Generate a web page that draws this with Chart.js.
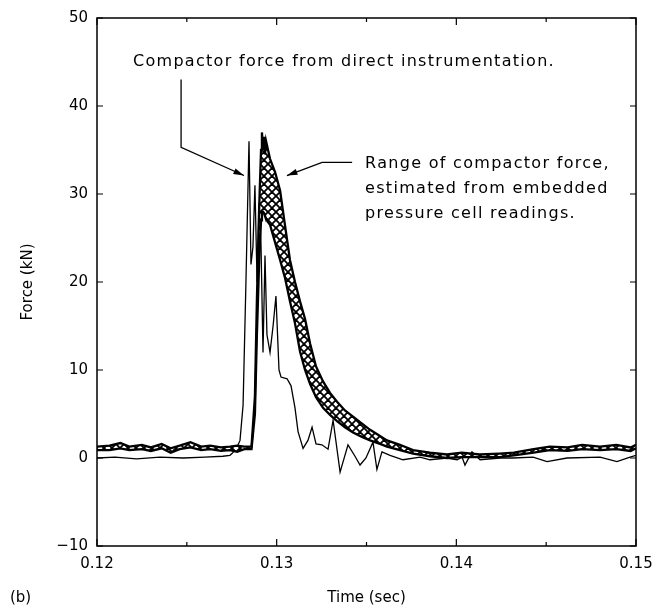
<!DOCTYPE html>
<html>
<head>
<meta charset="utf-8">
<script src="https://cdn.jsdelivr.net/npm/chart.js@4.4.1/dist/chart.umd.min.js"></script>
<style>
  html, body { margin: 0; padding: 0; background: #fff; }
  #wrap { width: 669px; height: 611px; }
</style>
</head>
<body>
<div id="wrap"><canvas id="myChart" width="669" height="611"></canvas></div>
<script>
// band of compactor force estimated from pressure cells (upper / lower edge)
var bandTime = [0.12000, 0.12070, 0.12130, 0.12180, 0.12250, 0.12300, 0.12360, 0.12410, 0.12460, 0.12520,
  0.12580, 0.12630, 0.12690, 0.12740, 0.12780, 0.12820, 0.12860, 0.12879, 0.12890, 0.12902,
  0.12913, 0.12918, 0.12924, 0.12930, 0.12935, 0.12941, 0.12952, 0.12963, 0.12991, 0.13019,
  0.13046, 0.13074, 0.13102, 0.13130, 0.13158, 0.13186, 0.13219, 0.13258, 0.13297, 0.13336,
  0.13380, 0.13425, 0.13475, 0.13520, 0.13575, 0.13614, 0.13686, 0.13759, 0.13853, 0.13948,
  0.14030, 0.14130, 0.14240, 0.14320, 0.14430, 0.14520, 0.14620, 0.14700, 0.14800, 0.14890,
  0.14970, 0.15000];
var bandUpper = [1.3, 1.4, 1.7, 1.3, 1.5, 1.2, 1.6, 1.1, 1.4, 1.8,
  1.3, 1.4, 1.2, 1.3, 1.4, 1.3, 1.3, 7, 18, 28,
  35, 37, 35, 36.5, 34.5, 36, 35, 34, 32.5, 30.4,
  26.5, 22.5, 20.0, 17.8, 15.8, 13.0, 10.4, 8.7, 7.4, 6.4,
  5.4, 4.7, 3.9, 3.2, 2.5, 2.0, 1.5, 0.9, 0.6, 0.4,
  0.6, 0.4, 0.5, 0.6, 1.0, 1.3, 1.2, 1.5, 1.3, 1.5,
  1.2, 1.5];
var bandLower = [0.9, 0.9, 1.1, 0.9, 1.0, 0.8, 1.1, 0.6, 1.0, 1.2,
  0.9, 1.0, 0.8, 0.9, 0.7, 1.0, 1.0, 5, 14, 22,
  27, 28, 28, 27.8, 27.5, 27.2, 26.8, 26.5, 24.5, 22.5,
  20.5, 17.8, 15.3, 12.1, 10.0, 8.4, 6.9, 5.7, 4.9, 4.2,
  3.5, 2.9, 2.4, 2.0, 1.6, 1.3, 0.9, 0.5, 0.2, 0.0,
  0.1, 0.1, 0.1, 0.3, 0.6, 0.9, 0.8, 1.0, 0.9, 1.0,
  0.8, 1.1];

// compactor force from direct instrumentation
var directTime = [0.12000, 0.12100, 0.12220, 0.12350, 0.12480, 0.12600, 0.12700, 0.12740, 0.12751, 0.12774,
  0.12796, 0.12813, 0.12829, 0.12846, 0.12857, 0.12868, 0.12879, 0.12891, 0.12902, 0.12913,
  0.12924, 0.12935, 0.12946, 0.12963, 0.12980, 0.12996, 0.13013, 0.13024, 0.13058, 0.13080,
  0.13102, 0.13119, 0.13147, 0.13174, 0.13197, 0.13219, 0.13252, 0.13286, 0.13314, 0.13353,
  0.13397, 0.13436, 0.13464, 0.13497, 0.13536, 0.13558, 0.13586, 0.13631, 0.13703, 0.13798,
  0.13853, 0.13948, 0.14004, 0.14032, 0.14048, 0.14087, 0.14132, 0.14243, 0.14315, 0.14427,
  0.14505, 0.14616, 0.14800, 0.14894, 0.14967, 0.15000];
var directForce = [0.0, 0.1, -0.1, 0.1, 0.0, 0.1, 0.2, 0.3, 0.5, 1.0,
  2.0, 6.0, 20, 36, 22, 24, 31, 20, 29, 24,
  12, 23, 14, 12, 15, 18.4, 10, 9.2, 9.0, 8.2,
  5.7, 3.0, 1.1, 2.0, 3.5, 1.6, 1.5, 1.0, 4.3, -1.6,
  1.5, 0.2, -0.8, 0.0, 1.8, -1.3, 0.7, 0.3, -0.2, 0.1,
  -0.2, 0.0, -0.2, 0.1, -0.8, 0.7, -0.2, 0.0, 0.0, 0.1,
  -0.4, 0.0, 0.1, -0.4, 0.1, 0.3];

var xTicks = [0.12, 0.13, 0.14, 0.15];
var yTicks = [-10, 0, 10, 20, 30, 40, 50];

function toPoints(xs, ys) {
    return xs.map(function (x, i) { return { x: x, y: ys[i] }; });
}

// cross hatch for the range band
function makeHatch() {
    var n = 8;
    var c = document.createElement('canvas');
    c.width = n; c.height = n;
    var g = c.getContext('2d');
    g.fillStyle = '#fff';
    g.fillRect(0, 0, n, n);
    g.strokeStyle = '#000';
    g.lineWidth = 1.8;
    [-n, 0, n].forEach(function (o) {
        g.beginPath(); g.moveTo(o, 0); g.lineTo(o + n, n); g.stroke();
        g.beginPath(); g.moveTo(o, n); g.lineTo(o + n, 0); g.stroke();
    });
    return g.createPattern(c, 'repeat');
}

var FONT = 'DejaVu Sans';

// box, inward ticks on all sides, annotations
var framePlugin = {
    id: 'frame',
    afterDatasetsDraw: function (chart) {
        var ctx = chart.ctx, a = chart.chartArea;
        var xs = chart.scales.x, ys = chart.scales.y;
        ctx.save();
        ctx.strokeStyle = '#000';
        ctx.lineWidth = 1.5;
        ctx.strokeRect(a.left, a.top, a.right - a.left, a.bottom - a.top);
        ctx.lineWidth = 1.2;
        for (var t = 0.12; t <= 0.1501; t += 0.005) {
            var px = xs.getPixelForValue(t);
            var major = Math.abs(t * 100 - Math.round(t * 100)) < 0.01;
            var len = major ? 7 : 4;
            ctx.beginPath();
            ctx.moveTo(px, a.bottom); ctx.lineTo(px, a.bottom - len);
            ctx.moveTo(px, a.top); ctx.lineTo(px, a.top + len);
            ctx.stroke();
        }
        yTicks.forEach(function (v) {
            var py = ys.getPixelForValue(v);
            ctx.beginPath();
            ctx.moveTo(a.left, py); ctx.lineTo(a.left + 6, py);
            ctx.moveTo(a.right, py); ctx.lineTo(a.right - 6, py);
            ctx.stroke();
        });

        // annotations
        function P(t, f) { return [xs.getPixelForValue(t), ys.getPixelForValue(f)]; }
        function arrowHead(from, to) {
            var ang = Math.atan2(to[1] - from[1], to[0] - from[0]);
            ctx.beginPath();
            ctx.moveTo(to[0], to[1]);
            ctx.lineTo(to[0] - 11 * Math.cos(ang - 0.28), to[1] - 11 * Math.sin(ang - 0.28));
            ctx.lineTo(to[0] - 11 * Math.cos(ang + 0.28), to[1] - 11 * Math.sin(ang + 0.28));
            ctx.closePath();
            ctx.fill();
        }
        ctx.fillStyle = '#000';
        ctx.font = '16px "' + FONT + '"';
        ctx.letterSpacing = '1.3px';
        ctx.textBaseline = 'middle';
        ctx.textAlign = 'left';
        var p = P(0.12200, 45.0);
        ctx.fillText('Compactor force from direct instrumentation.', p[0], p[1]);
        var q = P(0.13492, 33.4);
        ctx.fillText('Range of compactor force,', q[0], q[1]);
        ctx.fillText('estimated from embedded', q[0], q[1] + 25);
        ctx.fillText('pressure cell readings.', q[0], q[1] + 50);
        ctx.letterSpacing = '0px';

        ctx.lineWidth = 1.3;
        var a1 = P(0.12468, 43.0), a2 = P(0.12468, 35.3), a3 = P(0.12818, 32.1);
        ctx.beginPath();
        ctx.moveTo(a1[0], a1[1]); ctx.lineTo(a2[0], a2[1]); ctx.lineTo(a3[0], a3[1]);
        ctx.stroke();
        arrowHead(a2, a3);

        var b1 = P(0.13420, 33.6), b2 = P(0.13253, 33.6), b3 = P(0.13057, 32.1);
        ctx.beginPath();
        ctx.moveTo(b1[0], b1[1]); ctx.lineTo(b2[0], b2[1]); ctx.lineTo(b3[0], b3[1]);
        ctx.stroke();
        arrowHead(b2, b3);

        ctx.font = '15px "' + FONT + '"';
        ctx.fillText('(b)', 10, 598);
        ctx.restore();
    }
};

var ctx = document.getElementById('myChart').getContext('2d');
var myChart = new Chart(ctx, {
    type: 'line',
    data: {
        datasets: [{
            label: 'lower',
            data: toPoints(bandTime, bandLower),
            borderColor: '#000',
            borderWidth: 2.3,
            pointRadius: 0,
            fill: false
        }, {
            label: 'upper',
            data: toPoints(bandTime, bandUpper),
            borderColor: '#000',
            borderWidth: 2.3,
            pointRadius: 0,
            backgroundColor: makeHatch(),
            fill: '-1'
        }, {
            label: 'direct',
            data: toPoints(directTime, directForce),
            borderColor: '#000',
            borderWidth: 1.3,
            pointRadius: 0,
            fill: false
        }]
    },
    options: {
        responsive: false,
        animation: false,
        layout: { padding: { left: 0, right: 33, top: 13, bottom: 0 } },
        plugins: { legend: { display: false }, tooltip: { enabled: false } },
        elements: { line: { tension: 0 } },
        scales: {
            x: {
                type: 'linear',
                min: 0.12, max: 0.15,
                grid: { display: false, drawTicks: false },
                border: { display: false },
                afterBuildTicks: function (s) { s.ticks = xTicks.map(function (v) { return { value: v }; }); },
                afterFit: function (s) { s.height = 65; },
                ticks: {
                    color: '#000', padding: 9,
                    font: { family: FONT, size: 15 },
                    maxRotation: 0,
                    callback: function (v) { return Number(v).toFixed(2); }
                },
                title: {
                    display: true, text: 'Time (sec)', color: '#000',
                    font: { family: FONT, size: 15 },
                    padding: { bottom: 4 }
                }
            },
            y: {
                min: -10, max: 50,
                grid: { display: false, drawTicks: false },
                border: { display: false },
                afterBuildTicks: function (s) { s.ticks = yTicks.map(function (v) { return { value: v }; }); },
                afterFit: function (s) { s.width = 97; },
                ticks: {
                    color: '#000', padding: 9,
                    font: { family: FONT, size: 15 },
                    callback: function (v) { return String(v).replace('-', '\u2212'); }
                },
                title: {
                    display: true, text: 'Force (kN)', color: '#000',
                    font: { family: FONT, size: 15 },
                    padding: { top: 19 }
                }
            }
        }
    },
    plugins: [framePlugin]
});
</script>
</body>
</html>
